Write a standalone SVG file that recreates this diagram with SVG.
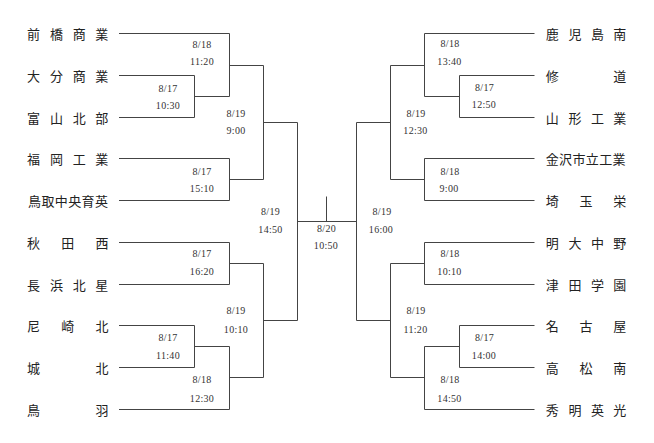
<svg xmlns="http://www.w3.org/2000/svg" width="654" height="443" viewBox="0 0 654 443">
<style>
.bg{fill:#ffffff}
.ln{fill:none;stroke:#444;stroke-width:1}
.tm{font-family:"Noto Sans CJK JP","Noto Sans CJK SC",sans-serif;font-size:13px;fill:#222}
.dt{font-family:"Liberation Serif",serif;font-size:10px;fill:#333;text-anchor:middle;letter-spacing:0.3px}
</style>
<rect class="bg" x="0" y="0" width="654" height="443"/>
<g id="connectors" class="ln">
<path d="M119 33.5H229.5M119 75.5H194.5M119 117.5H194.5M194.5 75.5V117.5M194.5 96.5H229.5M229.5 33.5V96.5M229.5 65.5H263.5"/>
<path d="M119 158.5H229.5M119 200.5H229.5M229.5 158.5V200.5M229.5 179.5H263.5M263.5 65.5V179.5M263.5 122.5H297.5"/>
<path d="M119 242.5H229.5M119 284.5H229.5M229.5 242.5V284.5M229.5 263.5H263.5"/>
<path d="M119 325.5H194.5M119 367.5H194.5M194.5 325.5V367.5M194.5 346.5H229.5M119 409.5H229.5M229.5 346.5V409.5M229.5 377.5H263.5M263.5 263.5V377.5M263.5 320.5H297.5"/>
<path d="M297.5 122.5V320.5M297.5 221.5H356.5M326.5 196.5V221.5M356.5 122.5V320.5"/>
<path d="M534.5 33.5H424.5M534.5 75.5H459.5M534.5 117.5H459.5M459.5 75.5V117.5M459.5 96.5H424.5M424.5 33.5V96.5M424.5 65.5H390.5"/>
<path d="M534.5 158.5H424.5M534.5 200.5H424.5M424.5 158.5V200.5M424.5 179.5H390.5M390.5 65.5V179.5M390.5 122.5H356.5"/>
<path d="M534.5 242.5H424.5M534.5 284.5H424.5M424.5 242.5V284.5M424.5 263.5H390.5"/>
<path d="M534.5 325.5H459.5M534.5 367.5H459.5M459.5 325.5V367.5M459.5 346.5H424.5M534.5 409.5H424.5M424.5 346.5V409.5M424.5 377.5H390.5M390.5 263.5V377.5M390.5 320.5H356.5"/>
</g>
<g id="team-maebashi"><text class="tm" x="27 50 72.7 95.3" y="39">前橋商業</text></g>
<g id="team-oita"><text class="tm" x="27 50 72.7 95.3" y="81">大分商業</text></g>
<g id="team-toyamakita"><text class="tm" x="27 50 72.7 95.3" y="123">富山北部</text></g>
<g id="team-fukuoka"><text class="tm" x="27 50 72.7 95.3" y="164">福岡工業</text></g>
<g id="team-tottori"><text class="tm" x="28 41.4 54.8 68.2 81.6 95" y="206">鳥取中央育英</text></g>
<g id="team-akitanishi"><text class="tm" x="27 61.3 95.5" y="248">秋田西</text></g>
<g id="team-nagahama"><text class="tm" x="27 50 72.7 95.3" y="290">長浜北星</text></g>
<g id="team-amagasaki"><text class="tm" x="27 61.3 95.5" y="331">尼崎北</text></g>
<g id="team-johoku"><text class="tm" x="27 95.5" y="373">城北</text></g>
<g id="team-toba"><text class="tm" x="27 95.5" y="415">鳥羽</text></g>
<g id="team-kagoshima"><text class="tm" x="545.7 568.5 591 613.3" y="39">鹿児島南</text></g>
<g id="team-shudo"><text class="tm" x="545.7 613.3" y="81">修道</text></g>
<g id="team-yamagata"><text class="tm" x="545.7 568.5 591 613.3" y="123">山形工業</text></g>
<g id="team-kanazawa"><text class="tm" x="545.7 559 572.4 585.8 599.2 612.6" y="164">金沢市立工業</text></g>
<g id="team-saitamasakae"><text class="tm" x="545.7 579.5 613.3" y="206">埼玉栄</text></g>
<g id="team-meidai"><text class="tm" x="545.7 568.5 591 613.3" y="248">明大中野</text></g>
<g id="team-tsuda"><text class="tm" x="545.7 568.5 591 613.3" y="290">津田学園</text></g>
<g id="team-nagoya"><text class="tm" x="545.7 579.5 613.3" y="331">名古屋</text></g>
<g id="team-takamatsu"><text class="tm" x="545.7 579.5 613.3" y="373">高松南</text></g>
<g id="team-shumei"><text class="tm" x="545.7 568.5 591 613.3" y="415">秀明英光</text></g>
<g id="m-l1"><text class="dt" x="168" y="91.5">8/17</text><text class="dt" x="168" y="108.5">10:30</text></g>
<g id="m-l2"><text class="dt" x="202" y="47.5">8/18</text><text class="dt" x="202" y="65">11:20</text></g>
<g id="m-l3"><text class="dt" x="202" y="175">8/17</text><text class="dt" x="202" y="191.7">15:10</text></g>
<g id="m-l4"><text class="dt" x="236" y="116.7">8/19</text><text class="dt" x="236" y="134">9:00</text></g>
<g id="m-l5"><text class="dt" x="202" y="257.3">8/17</text><text class="dt" x="202" y="275.3">16:20</text></g>
<g id="m-l6"><text class="dt" x="168" y="340.7">8/17</text><text class="dt" x="168" y="358.7">11:40</text></g>
<g id="m-l7"><text class="dt" x="202" y="383.3">8/18</text><text class="dt" x="202" y="401.7">12:30</text></g>
<g id="m-l8"><text class="dt" x="236" y="314.3">8/19</text><text class="dt" x="236" y="332.7">10:10</text></g>
<g id="m-l9"><text class="dt" x="270.5" y="215">8/19</text><text class="dt" x="270.5" y="233.3">14:50</text></g>
<g id="m-final"><text class="dt" x="326.5" y="231.7">8/20</text><text class="dt" x="326" y="249.3">10:50</text></g>
<g id="m-r1"><text class="dt" x="484.5" y="90.7">8/17</text><text class="dt" x="484" y="108.3">12:50</text></g>
<g id="m-r2"><text class="dt" x="450" y="46.7">8/18</text><text class="dt" x="449.5" y="65">13:40</text></g>
<g id="m-r3"><text class="dt" x="450" y="175">8/18</text><text class="dt" x="449" y="191.7">9:00</text></g>
<g id="m-r4"><text class="dt" x="416" y="116.7">8/19</text><text class="dt" x="415.5" y="134">12:30</text></g>
<g id="m-r5"><text class="dt" x="450" y="257.3">8/18</text><text class="dt" x="449.5" y="275.3">10:10</text></g>
<g id="m-r6"><text class="dt" x="484.5" y="340.7">8/17</text><text class="dt" x="484" y="358.7">14:00</text></g>
<g id="m-r7"><text class="dt" x="450" y="383.3">8/18</text><text class="dt" x="449.5" y="401.7">14:50</text></g>
<g id="m-r8"><text class="dt" x="416" y="314.3">8/19</text><text class="dt" x="415.5" y="332.7">11:20</text></g>
<g id="m-r9"><text class="dt" x="382" y="215">8/19</text><text class="dt" x="381" y="233.3">16:00</text></g>
</svg>
